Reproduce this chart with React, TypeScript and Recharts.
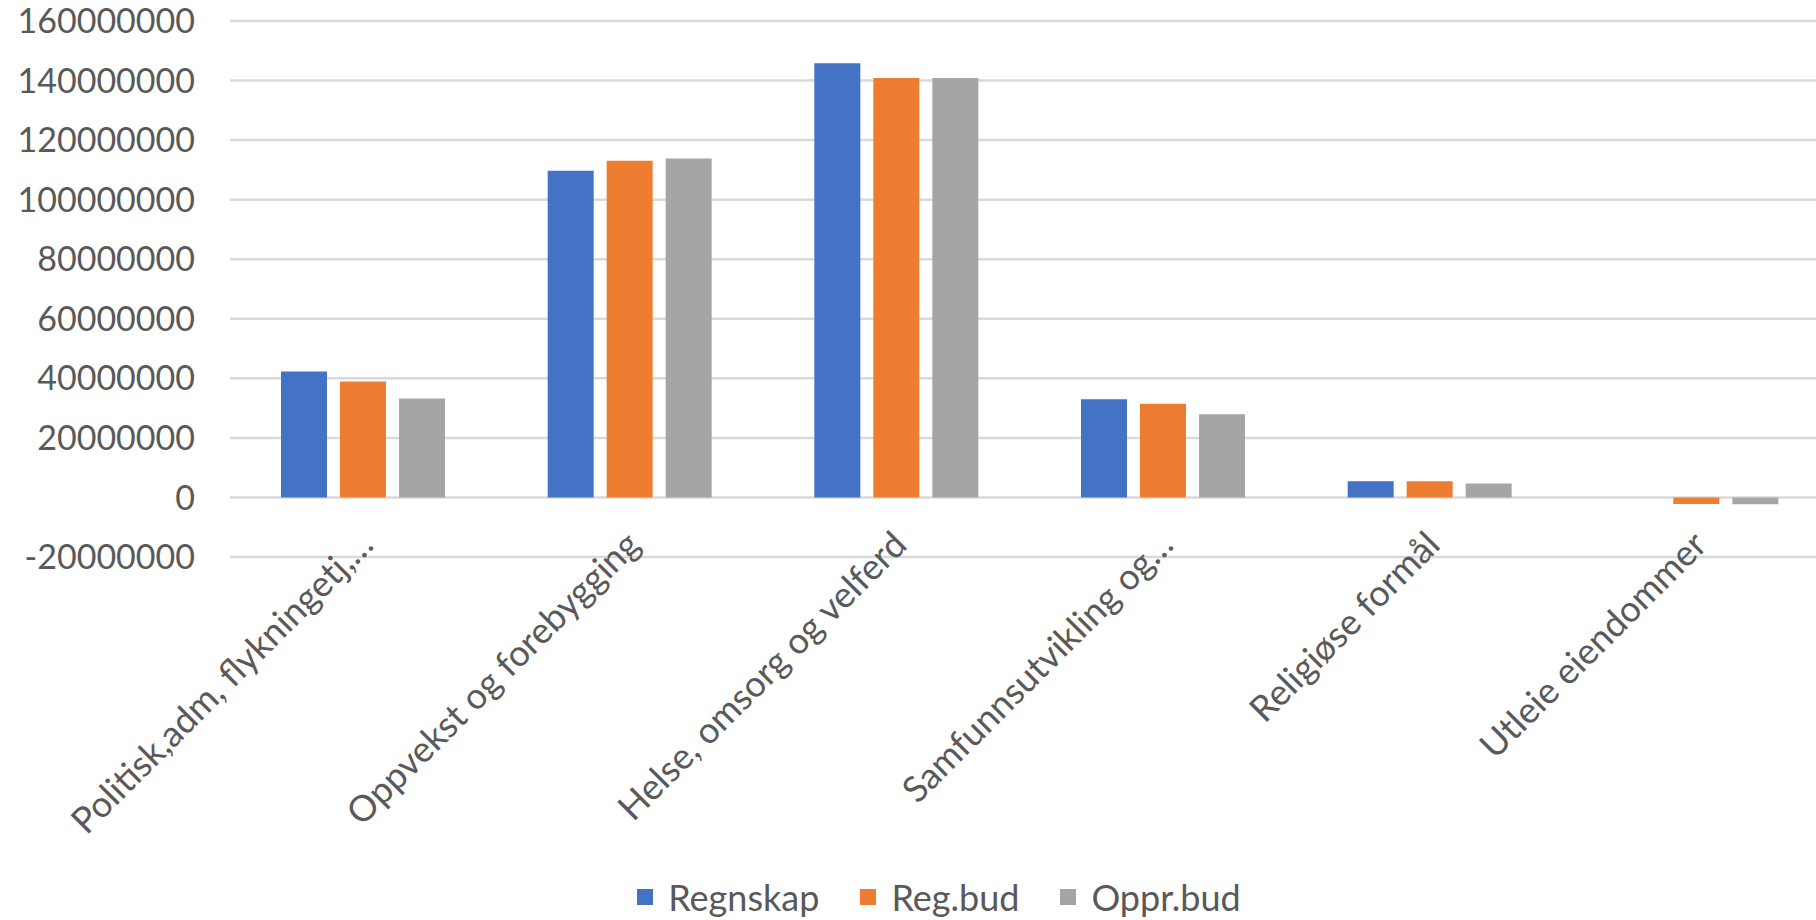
import React from "react";
import { Bar, BarChart, CartesianGrid, Legend, XAxis, YAxis } from "recharts";

const CATEGORIES = [
  "Politisk,adm, flykningetj,…",
  "Oppvekst og forebygging",
  "Helse, omsorg og velferd",
  "Samfunnsutvikling og…",
  "Religiøse formål",
  "Utleie eiendommer",
];

const REGNSKAP = [42300000, 109700000, 145800000, 33000000, 5400000, 0];
const REG_BUD = [38900000, 113100000, 140900000, 31500000, 5400000, -2200000];
const OPPR_BUD = [33200000, 113800000, 140900000, 27900000, 4700000, -2300000];

const Y_TICKS = [-20000000, 0, 20000000, 40000000, 60000000, 80000000, 100000000, 120000000, 140000000, 160000000];

const SERIES = [
  { key: "regnskap", name: "Regnskap", color: "#4472C4" },
  { key: "regBud", name: "Reg.bud", color: "#ED7D31" },
  { key: "opprBud", name: "Oppr.bud", color: "#A5A5A5" },
];

const data = CATEGORIES.map((label, i) => ({
  label,
  regnskap: REGNSKAP[i],
  regBud: REG_BUD[i],
  opprBud: OPPR_BUD[i],
}));

const FONT = "Lato, 'Open Sans', sans-serif";
const TEXT = "#595959";

function CategoryTick({ x, y, payload }: any) {
  const ax = x + 12;
  const ay = y - 10;
  return (
    <text
      x={ax}
      y={ay}
      transform={`rotate(-45, ${ax}, ${ay})`}
      textAnchor="end"
      fill={TEXT}
      fontSize={36}
      fontFamily={FONT}
    >
      {payload.value}
    </text>
  );
}

// legend drawn in series order (Recharts hands the payload over reversed here)
function LegendContent() {
  return (
    <div
      style={{
        height: 70,
        paddingTop: 24,
        boxSizing: "border-box",
        display: "flex",
        justifyContent: "center",
        alignItems: "center",
        paddingLeft: 48,
        fontFamily: FONT,
        fontSize: 36,
        lineHeight: 1,
        color: TEXT,
      }}
    >
      {SERIES.map((s, i) => (
        <div
          key={s.key}
          style={{ display: "flex", alignItems: "center", marginRight: i < SERIES.length - 1 ? 41 : 0, height: 46 }}
        >
          <span style={{ width: 16, height: 16, background: s.color, marginRight: 15, display: "inline-block" }} />
          <span style={{ lineHeight: 1 }}>{s.name}</span>
        </div>
      ))}
    </div>
  );
}

export default function App() {
  return (
    <div style={{ position: "absolute", left: 0, top: 0, width: 1816, height: 920, overflow: "hidden", background: "#fff" }}>
      <BarChart
        width={1830}
        height={920}
        data={data}
        margin={{ top: 21, right: 0, bottom: 0, left: 0 }}
        barSize={46}
        barGap={13}
      >
        <CartesianGrid vertical={false} stroke="#D9D9D9" strokeWidth={2.5} />
        <XAxis
          dataKey="label"
          interval={0}
          axisLine={false}
          tickLine={false}
          tickSize={0}
          tickMargin={0}
          height={293}
          tick={<CategoryTick />}
        />
        <YAxis
          width={230}
          domain={[-20000000, 160000000]}
          ticks={Y_TICKS}
          axisLine={false}
          tickLine={false}
          tickSize={0}
          tickMargin={35}
          tick={{ fill: TEXT, fontSize: 34, fontFamily: FONT }}
        />
        <Legend verticalAlign="bottom" content={<LegendContent />} />
        {SERIES.map((s) => (
          <Bar key={s.key} dataKey={s.key} name={s.name} fill={s.color} isAnimationActive={false} />
        ))}
      </BarChart>
    </div>
  );
}
